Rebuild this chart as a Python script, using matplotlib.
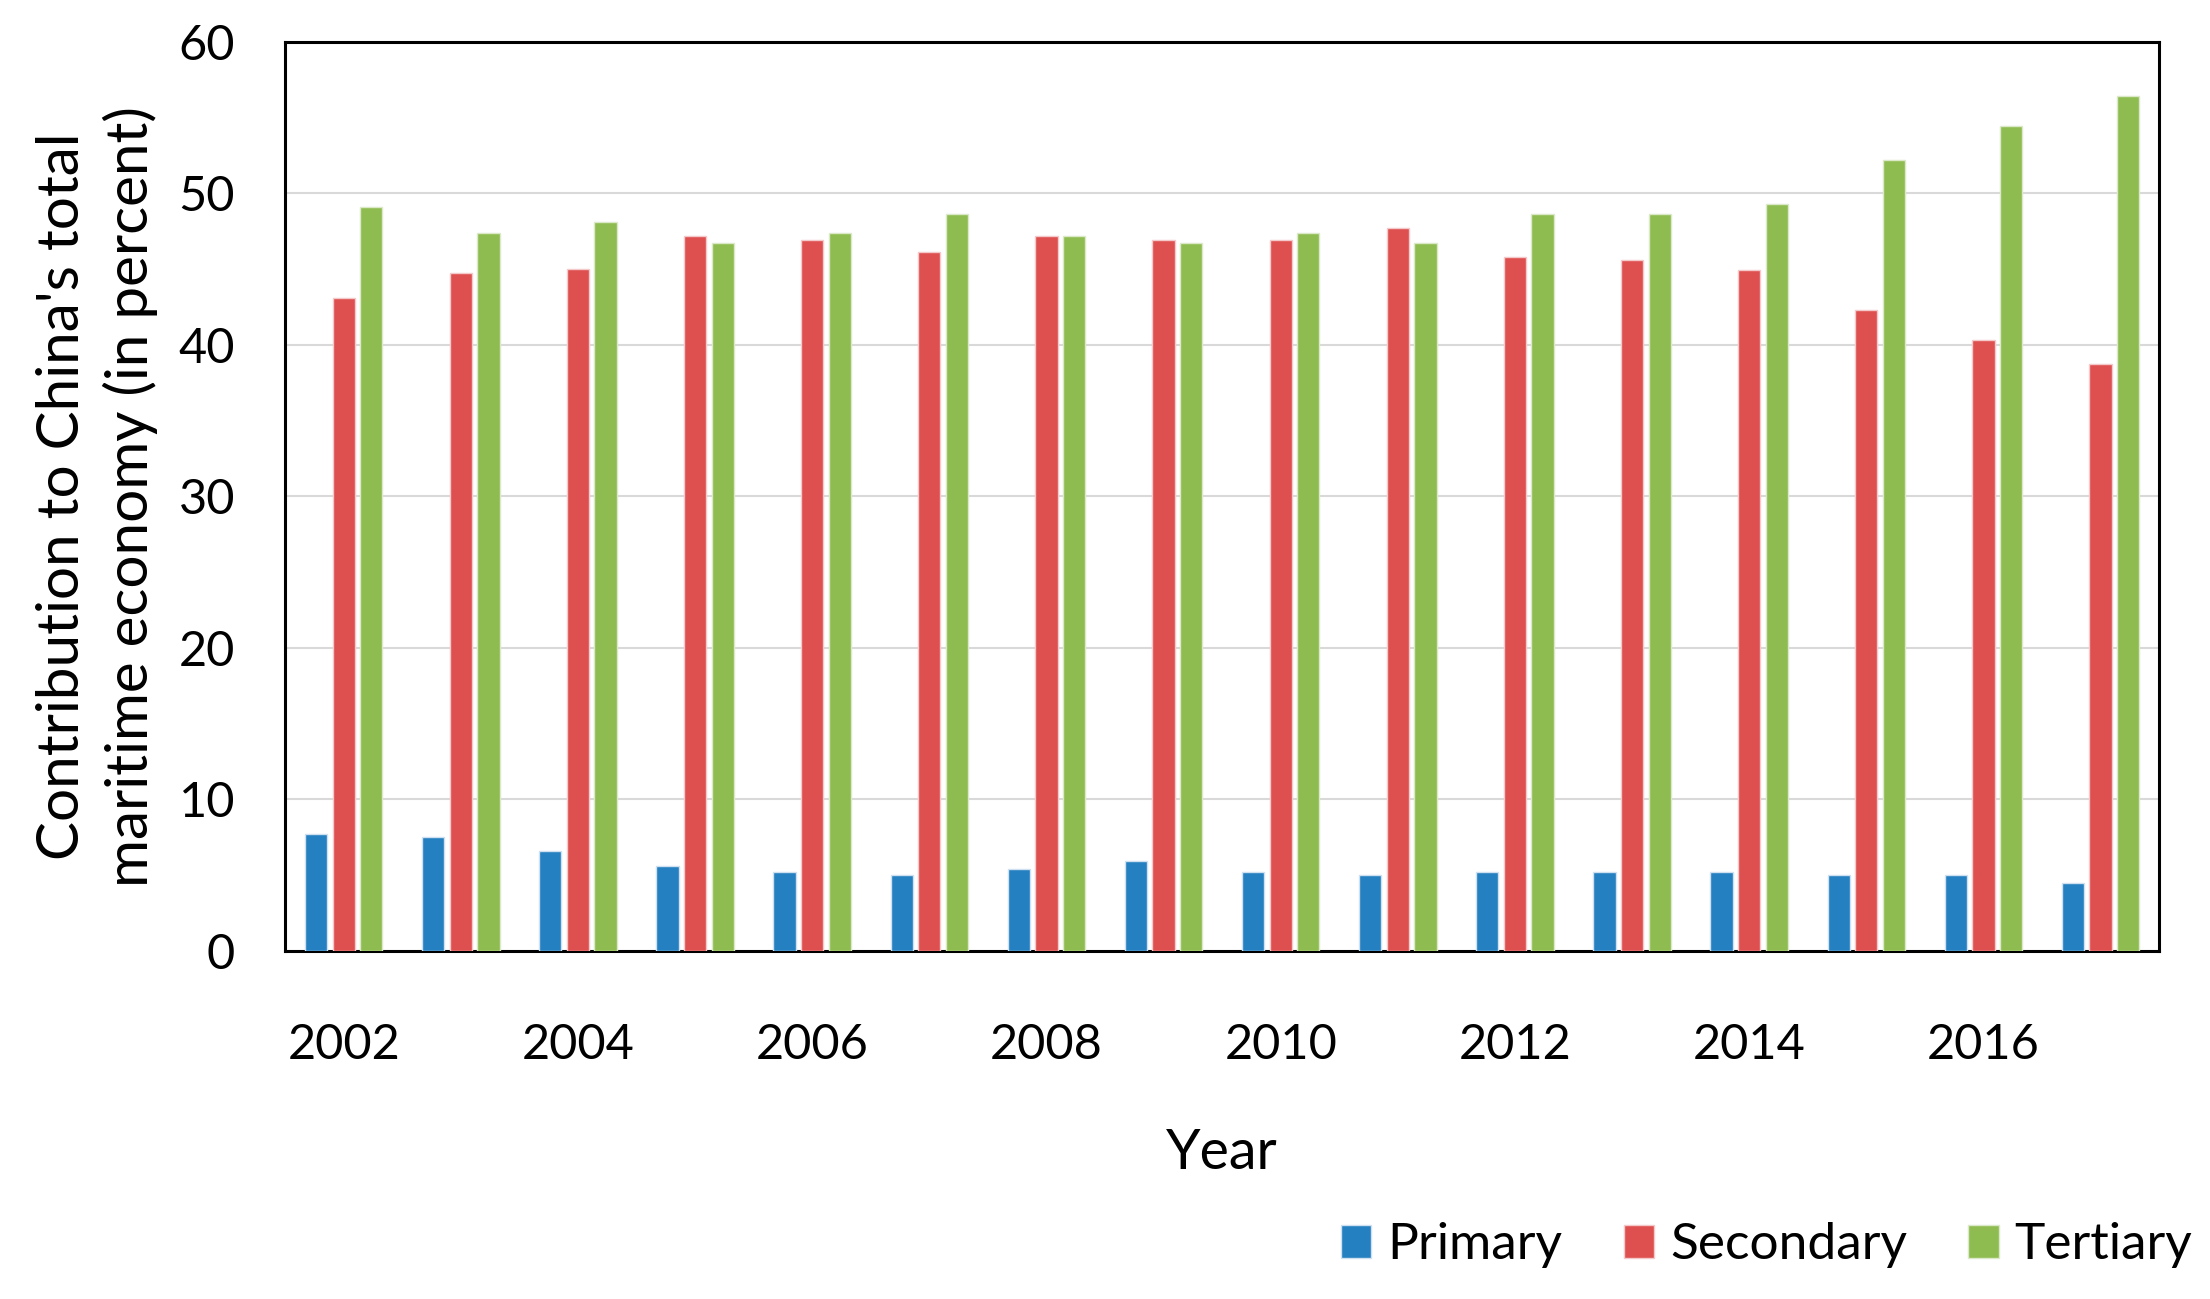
import matplotlib.pyplot as plt
import numpy as np

plt.rcParams['font.family'] = ['Lato', 'DejaVu Sans']

years = np.arange(2002, 2018)
primary = [7.7, 7.5, 6.6, 5.6, 5.2, 5.0, 5.4, 5.9, 5.2, 5.0, 5.2, 5.2, 5.2, 5.0, 5.0, 4.5]
secondary = [43.1, 44.7, 45.0, 47.2, 46.9, 46.1, 47.2, 46.9, 46.9, 47.7, 45.8, 45.6, 44.9, 42.3, 40.3, 38.7]
tertiary = [49.1, 47.4, 48.1, 46.7, 47.4, 48.6, 47.2, 46.7, 47.4, 46.7, 48.6, 48.6, 49.3, 52.2, 54.4, 56.4]

xtick_years = np.arange(2002, 2017, 2)
yticks = np.arange(0, 61, 10)

fig = plt.figure(figsize=(22.1, 12.99), dpi=100)
ax = fig.add_axes([0.129, 0.268, 0.848, 0.700])

offset = 0.236
width = 0.19
ax.bar(years - offset, primary, width, color='#2480c0', edgecolor='#cfe0f0', linewidth=1, label='Primary', zorder=3)
ax.bar(years, secondary, width, color='#de4f4f', edgecolor='#f3c9c9', linewidth=1, label='Secondary', zorder=3)
ax.bar(years + offset, tertiary, width, color='#8fbc50', edgecolor='#dbe9c8', linewidth=1, label='Tertiary', zorder=3)

ax.set_xlim(2001.5, 2017.5)
ax.set_ylim(0, 60)
ax.set_xticks(xtick_years)
ax.set_yticks(yticks)
ax.tick_params(axis='both', length=0, labelsize=35)
ax.tick_params(axis='x', pad=52)
ax.tick_params(axis='y', pad=36)

ax.grid(axis='y', color='#d9d9d9', linewidth=1.5, zorder=0)
for s in ax.spines.values():
    s.set_linewidth(2.2)
    s.set_color('black')

ax.set_xlabel('Year', fontsize=40, labelpad=44)
ax.set_ylabel("Contribution to China's total\nmaritime economy (in percent)", fontsize=42, linespacing=1.3)
ax.yaxis.set_label_coords(-0.068, 0.5)

# legend sits in the bottom right corner, a bit past the axes edge
fig.legend(loc='lower right', bbox_to_anchor=(1.013, -0.012), ncol=3, frameon=False, fontsize=37,
           handlelength=0.6, handleheight=0.6, handletextpad=0.3, columnspacing=1.2)

fig.savefig('out.png', dpi=100)
